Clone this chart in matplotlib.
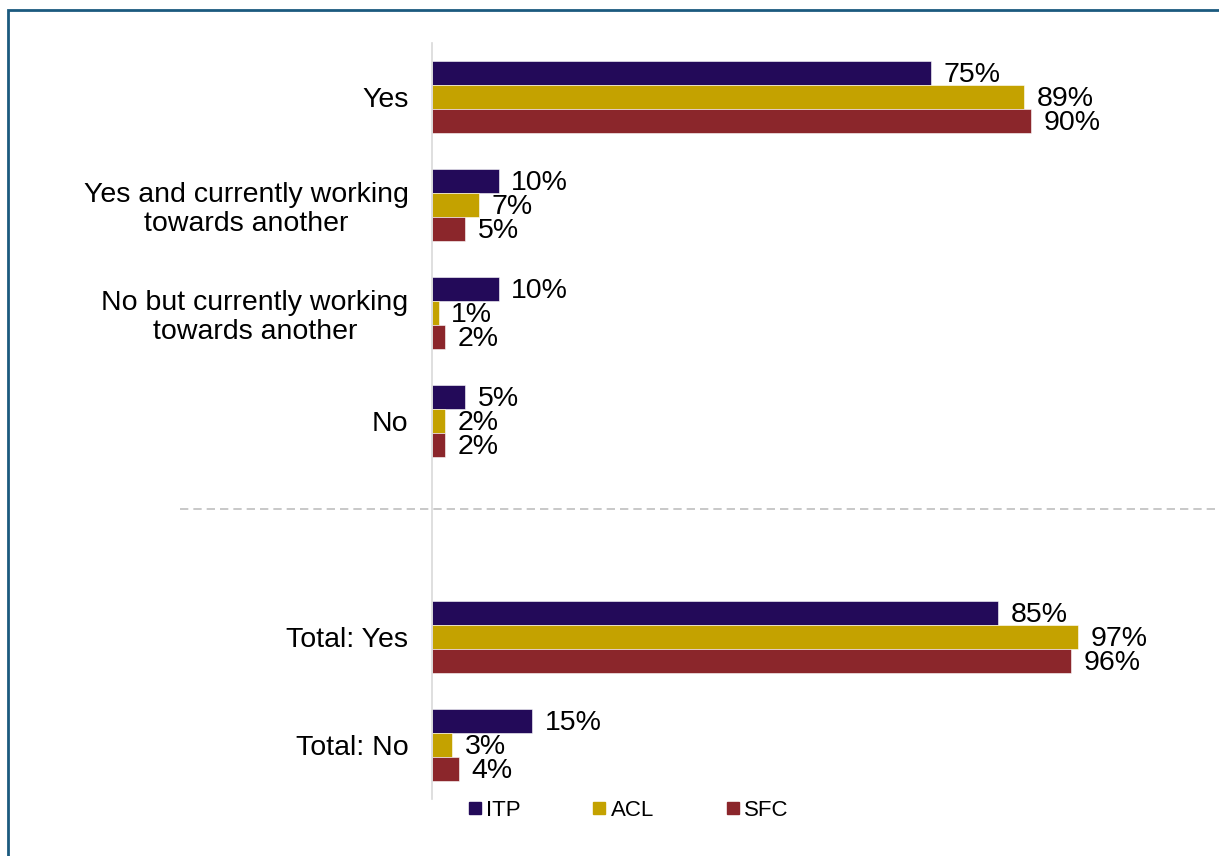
import matplotlib
matplotlib.use("Agg")
import matplotlib.pyplot as plt
from matplotlib.lines import Line2D
from matplotlib.patches import Rectangle
import numpy as np

plt.rcParams["font.family"] = ["Liberation Sans", "DejaVu Sans"]

categories = ["Yes", "Yes and currently working\ntowards another",
              "No but currently working\ntowards another", "No",
              "", "Total: Yes", "Total: No"]
series = ["ITP", "ACL", "SFC"]
itp = [75, 10, 10, 5, None, 85, 15]
acl = [89, 7, 1, 2, None, 97, 3]
sfc = [90, 5, 2, 2, None, 96, 4]
colors = ["#230A59", "#C4A200", "#8B262B"]

fig = plt.figure(figsize=(12.19, 8.56), dpi=100)
ax = fig.add_axes([0.3544, 0.0666, 0.546, 0.8832])

h = 0.222
ys = np.arange(len(categories))
for k, (vals, c) in enumerate(zip([itp, acl, sfc], colors)):
    for i, v in enumerate(vals):
        if v is None:
            continue
        y = i + (k - 1) * h
        ax.barh(y, v, height=h, color=c, edgecolor="white", linewidth=0.4)
        ax.text(v + 1.9, y + 0.015, f"{v}%", va="center", ha="left", fontsize=20.5,
                color="black")

ax.set_xlim(0, 100)
ax.set_ylim(6.5, -0.5)
ax.set_yticks(ys)
ax.set_yticklabels(categories, fontsize=20.5, ha="right", multialignment="center",
                   linespacing=1.15)
ax.tick_params(axis="y", length=0, pad=17)
ax.set_xticks([])
for s in ["top", "right", "bottom"]:
    ax.spines[s].set_visible(False)
ax.spines["left"].set_color("#D9D9D9")
ax.spines["left"].set_linewidth(1.2)

# separator between detailed answers and totals
fig.add_artist(Line2D([180 / 1219, 1.0], [1 - 509 / 856, 1 - 509 / 856],
                      transform=fig.transFigure, color="#BFBFBF", lw=1.2,
                      ls=(0, (5, 3))))

# legend
handles = [Line2D([], [], marker="s", ls="", color=c, markersize=9) for c in colors]
fig.legend(handles, series, loc="center", bbox_to_anchor=(0.514, 1 - 810 / 856),
           ncol=3, frameon=False, fontsize=16, handletextpad=0.05,
           columnspacing=3.1, handlelength=0.9)

# outer frame
fig.add_artist(Rectangle((8 / 1219, -0.05), 1.2, 1 - 10 / 856 + 0.05,
                         transform=fig.transFigure, fill=False,
                         edgecolor="#1B5A7E", lw=2))

fig.savefig("out.png", dpi=100)
